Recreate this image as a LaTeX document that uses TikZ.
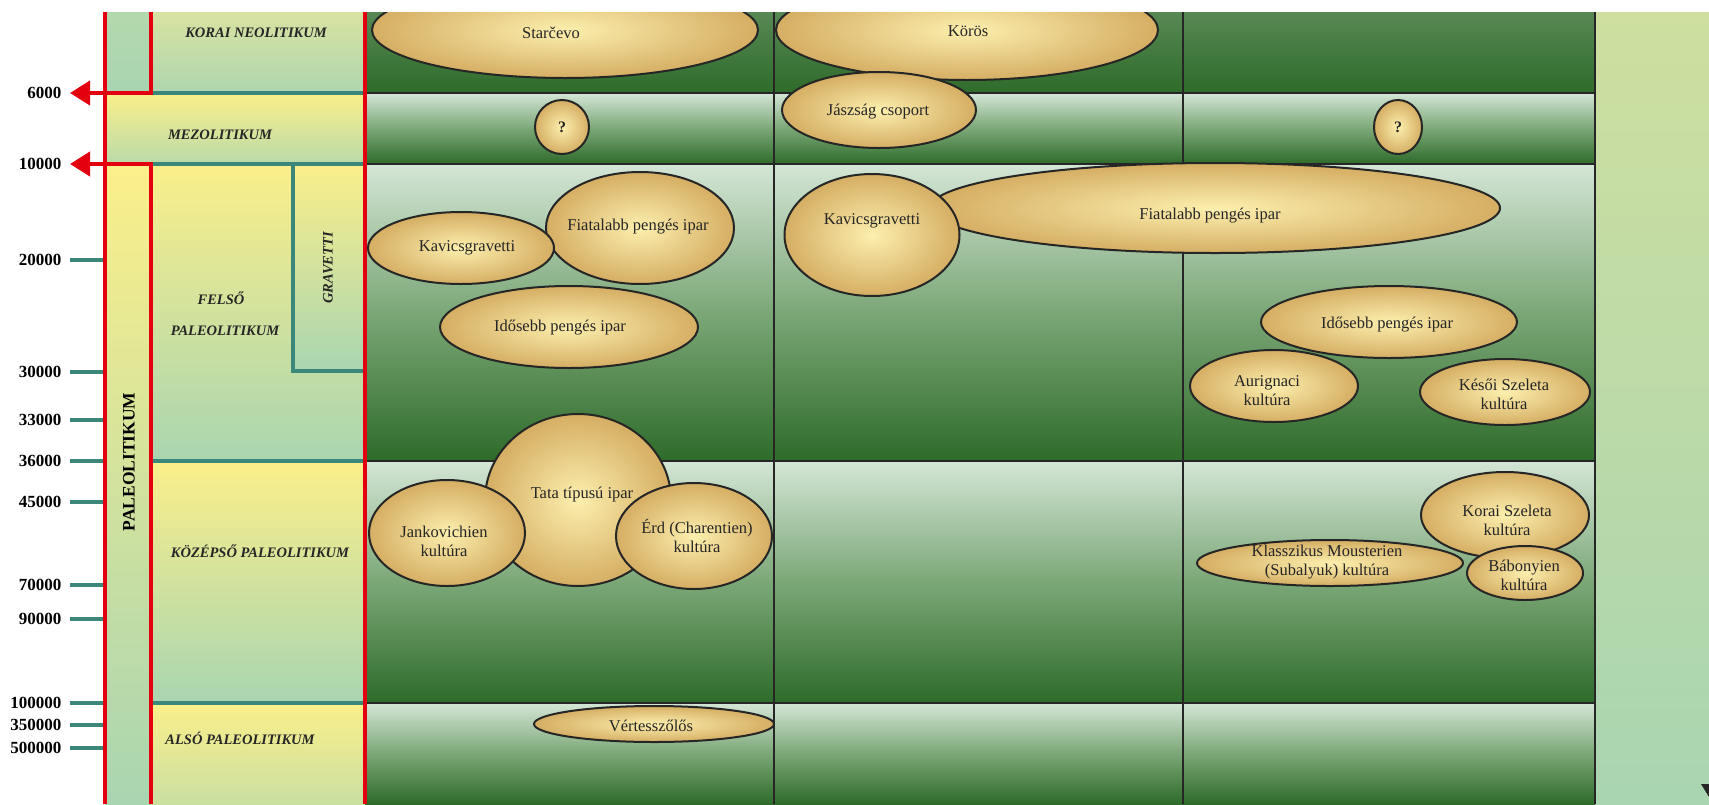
\documentclass[tikz,border=0pt]{standalone}
\usepackage{fontspec}
\setmainfont{Liberation Serif}
\usepackage{tikz}
\usetikzlibrary{shapes.geometric,arrows.meta}

\definecolor{redline}{HTML}{E3000F}
\definecolor{tealline}{HTML}{3B887A}
\definecolor{paleyellow}{HTML}{FBEF8A}
\definecolor{palegreen}{HTML}{A9D5B1}
\definecolor{lightgreen}{HTML}{D4E6D6}
\definecolor{midgreen}{HTML}{7BA777}
\definecolor{darkgreen}{HTML}{2E6B2A}
\definecolor{olivepale}{HTML}{CEDF9F}
\definecolor{stripgreen}{HTML}{B4D8AD}
\definecolor{neoband}{HTML}{D9E3A1}
\definecolor{goldin}{HTML}{FCEFAE}
\definecolor{goldout}{HTML}{D5AE63}

\begin{document}
\begin{tikzpicture}[x=1pt, y=-1pt,
    kult/.style={ellipse, draw=black!85, line width=2pt, inner color=goldin, outer color=goldout, inner sep=0pt},
    ktext/.style={font=\fontsize{16.5}{19}\selectfont, align=center, text=black!85},
    periodlabel/.style={font=\fontsize{14.5}{17}\selectfont\bfseries\itshape, text=black!85},
    yearlabel/.style={font=\fontsize{17}{20}\selectfont\bfseries, anchor=east},
    bandfill/.style={top color=paleyellow, bottom color=palegreen},
    rowfill/.style={top color=lightgreen, bottom color=darkgreen, middle color=midgreen},
    rowline/.style={black!85, line width=2.5pt},
    redrule/.style={redline, line width=4pt},
    tealrule/.style={tealline, line width=4pt}]
    \useasboundingbox (0,0) rectangle (1709,804);
    \begin{scope}
    \clip (0,12) rectangle (1709,804);

    % Period column
    \fill[top color=stripgreen, bottom color=palegreen] (105,12) rectangle (151,93);
    \fill[top color=neoband, bottom color=palegreen!90!neoband] (151,12) rectangle (365,93);
    \fill[top color=paleyellow, bottom color=palegreen!80!paleyellow] (105,93) rectangle (365,164);
    \fill[bandfill] (105,164) rectangle (151,804);
    \fill[bandfill] (151,164) rectangle (365,461);
    \fill[bandfill] (293,164) rectangle (365,371);
    \fill[bandfill] (151,461) rectangle (365,703);
    \fill[top color=paleyellow, bottom color=palegreen!60!paleyellow] (151,703) rectangle (365,804);

    % Rows
    \fill[top color=darkgreen!80!white, bottom color=darkgreen] (365,12) rectangle (1595,93);
    \fill[rowfill] (365,93) rectangle (1595,164);
    \fill[rowfill] (365,164) rectangle (1595,461);
    \fill[rowfill] (365,461) rectangle (1595,703);
    \fill[rowfill] (365,703) rectangle (1595,804);
    \fill[top color=olivepale, bottom color=palegreen] (1595,12) rectangle (1709,804);
    \fill[black!85] (1701,784) -- (1709,784) -- (1709,797) -- cycle;

    \draw[rowline] (365,93) -- (1595,93);
    \draw[rowline] (365,164) -- (1595,164);
    \draw[rowline] (365,461) -- (1595,461);
    \draw[rowline] (365,703) -- (1595,703);
    \draw[rowline] (774,12) -- (774,804);
    \draw[rowline] (1183,12) -- (1183,804);
    \draw[rowline] (1595,12) -- (1595,804);

    % Boundaries
    \draw[tealrule] (151,93) -- (365,93);
    \draw[tealrule] (151,164) -- (365,164);
    \draw[tealrule] (293,164) -- (293,371) -- (365,371);
    \draw[tealrule] (151,461) -- (365,461);
    \draw[tealrule] (151,703) -- (365,703);
    \draw[redrule] (105,12) -- (105,804);
    \draw[redrule] (365,12) -- (365,804);
    \draw[redrule, -{Triangle[length=20pt, width=24pt]}] (151,12) -- (151,93) -- (70,93);
    \draw[redrule, -{Triangle[length=20pt, width=24pt]}] (151,804) -- (151,164) -- (70,164);

    % Years
    \node[yearlabel] (y6000) at (65,93) {6000};
    \node[yearlabel] (y10000) at (65,164) {10000};
    \draw[tealrule] (70,260) -- (103,260);
    \node[yearlabel] (y20000) at (65,260) {20000};
    \draw[tealrule] (70,372) -- (103,372);
    \node[yearlabel] (y30000) at (65,372) {30000};
    \draw[tealrule] (70,420) -- (103,420);
    \node[yearlabel] (y33000) at (65,420) {33000};
    \draw[tealrule] (70,461) -- (103,461);
    \node[yearlabel] (y36000) at (65,461) {36000};
    \draw[tealrule] (70,502) -- (103,502);
    \node[yearlabel] (y45000) at (65,502) {45000};
    \draw[tealrule] (70,585) -- (103,585);
    \node[yearlabel] (y70000) at (65,585) {70000};
    \draw[tealrule] (70,619) -- (103,619);
    \node[yearlabel] (y90000) at (65,619) {90000};
    \draw[tealrule] (70,703) -- (103,703);
    \node[yearlabel] (y100000) at (65,703) {100000};
    \draw[tealrule] (70,725) -- (103,725);
    \node[yearlabel] (y350000) at (65,725) {350000};
    \draw[tealrule] (70,748) -- (103,748);
    \node[yearlabel] (y500000) at (65,748) {500000};

    % Periods
    \node[periodlabel] (neo) at (256,33) {KORAI NEOLITIKUM};
    \node[periodlabel] (mezo) at (220,135) {MEZOLITIKUM};
    \node[periodlabel] (felso) at (221,298) {FELSŐ};
    \node[periodlabel] (felso2) at (225,331) {PALEOLITIKUM};
    \node[periodlabel, rotate=90] (grav) at (328,268) {GRAVETTI};
    \node[periodlabel] (kozep) at (260,551) {KÖZÉPSŐ PALEOLITIKUM};
    \node[periodlabel] (also) at (240,738) {ALSÓ PALEOLITIKUM};
    \node[font=\fontsize{17.5}{20}\selectfont\bfseries, rotate=90] (paleo) at (129,462) {PALEOLITIKUM};

    % Cultures
    \node[kult, minimum width=386, minimum height=96] (starcevo) at (565,30) {};
    \node[ktext] at (551,33) {Starčevo};
    \node[kult, minimum width=382, minimum height=100] (koros) at (967,30) {};
    \node[ktext] at (968,31) {Körös};
    \node[kult, minimum width=194, minimum height=76] (jaszsag) at (879,110) {};
    \node[ktext] at (878,112) {Jászság csoport};
    \node[kult, minimum width=54, minimum height=54] (q1) at (562,127) {};
    \node[ktext, font=\fontsize{16}{19}\selectfont\bfseries] at (562,127) {?};
    \node[kult, minimum width=48, minimum height=54] (q2) at (1398,127) {};
    \node[ktext, font=\fontsize{16}{19}\selectfont\bfseries] at (1398,127) {?};

    \node[kult, minimum width=188, minimum height=112] (fiatal1) at (640,228) {};
    \node[ktext] at (638,227) {Fiatalabb pengés ipar};
    \node[kult, minimum width=186, minimum height=72] (kavics1) at (461,248) {};
    \node[ktext] at (467,248) {Kavicsgravetti};
    \node[kult, minimum width=258, minimum height=82] (idosebb1) at (569,327) {};
    \node[ktext] at (560,328) {Idősebb pengés ipar};
    \node[kult, minimum width=570, minimum height=90] (fiatal2) at (1215,208) {};
    \node[ktext] at (1210,216) {Fiatalabb pengés ipar};
    \node[kult, minimum width=175, minimum height=122] (kavics2) at (872,235) {};
    \node[ktext] at (872,221) {Kavicsgravetti};
    \node[kult, minimum width=256, minimum height=72] (idosebb3) at (1389,322) {};
    \node[ktext] at (1387,325) {Idősebb pengés ipar};
    \node[kult, minimum width=168, minimum height=72] (aurig) at (1274,386) {};
    \node[ktext] at (1267,391) {Aurignaci\\kultúra};
    \node[kult, minimum width=170, minimum height=66] (keso) at (1505,392) {};
    \node[ktext] at (1504,394) {Késői Szeleta\\kultúra};

    \node[kult, minimum width=186, minimum height=172] (tata) at (578,500) {};
    \node[ktext] at (582,495) {Tata típusú ipar};
    \node[kult, minimum width=156, minimum height=106] (jankov) at (447,533) {};
    \node[ktext] at (444,541) {Jankovichien\\kultúra};
    \node[kult, minimum width=156, minimum height=106] (erd) at (694,536) {};
    \node[ktext] at (697,536) {Érd (Charentien)\\kultúra};
    \node[kult, minimum width=168, minimum height=86] (koraisz) at (1505,515) {};
    \node[ktext] at (1507,520) {Korai Szeleta\\kultúra};
    \node[kult, minimum width=266, minimum height=46] (klassz) at (1330,563) {};
    \node[ktext] at (1327,562) {Klasszikus Mousterien\\(Subalyuk) kultúra};
    \node[kult, minimum width=116, minimum height=54] (babony) at (1525,573) {};
    \node[ktext] at (1524,575) {Bábonyien\\kultúra};

    \node[kult, minimum width=240, minimum height=36] (vertes) at (654,724) {};
    \node[ktext] at (651,726) {Vértesszőlős};
    \end{scope}
\end{tikzpicture}
\end{document}
